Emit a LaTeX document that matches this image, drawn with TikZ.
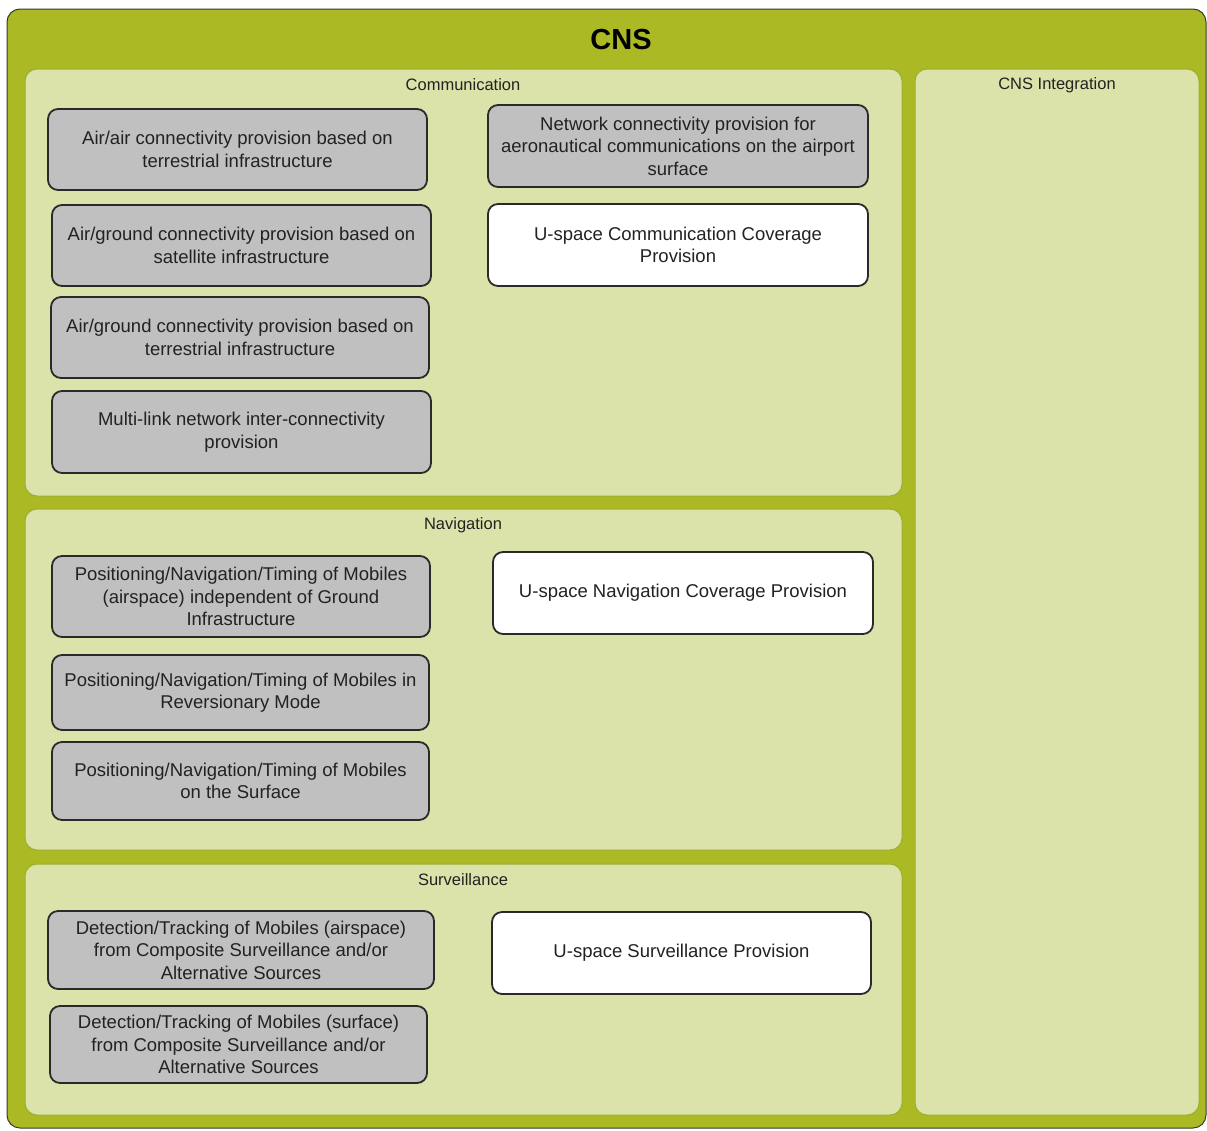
\documentclass[tikz,border=0pt]{standalone}
\usepackage{fontspec}
\setmainfont{Liberation Sans}
\definecolor{cnsgreen}{HTML}{AAB924}
\definecolor{cnsedge}{HTML}{3A3A2A}
\definecolor{panelfill}{HTML}{DCE3AA}
\definecolor{paneledge}{HTML}{9DAE2C}
\definecolor{boxgray}{HTML}{C0C0C0}
\definecolor{boxedge}{HTML}{2A2A2A}
\definecolor{txt}{HTML}{222222}
\tikzset{
  outerbox/.style={draw=cnsedge, line width=1pt, fill=cnsgreen, rounded corners=13pt, inner sep=0pt},
  panel/.style={draw=paneledge, line width=1pt, fill=panelfill, rounded corners=12pt, inner sep=0pt},
  fnbox/.style={draw=boxedge, line width=1.8pt, rounded corners=10pt, align=center, inner sep=2pt,
    text=txt, font=\fontsize{18.5}{22.5}\selectfont},
  graybox/.style={fnbox, fill=boxgray},
  whitebox/.style={fnbox, fill=white},
  plabel/.style={text=txt, font=\fontsize{16.5}{20}\selectfont, inner sep=0pt},
}
\begin{document}
\begin{tikzpicture}[x=1pt,y=-1pt]
\useasboundingbox (0,0) rectangle (1207,1130);

% outer CNS frame
\node[outerbox, minimum width=1199pt, minimum height=1119pt] (cns) at (606.5,568.5) {};
\node[font=\fontsize{29}{32}\selectfont\bfseries, text=black, inner sep=0pt] (cnstitle) at (621,40) {CNS};

% domain panels
\node[panel, minimum width=877pt, minimum height=427pt] (comm) at (463.5,282.5) {};
\node[panel, minimum width=877pt, minimum height=341pt] (nav) at (463.5,679.5) {};
\node[panel, minimum width=877pt, minimum height=251pt] (surv) at (463.5,989.5) {};
\node[panel, minimum width=284pt, minimum height=1046pt] (integ) at (1057,592) {};

\node[plabel] (commlbl) at (463,85) {Communication};
\node[plabel] (navlbl) at (463,525) {Navigation};
\node[plabel] (survlbl) at (463,880) {Surveillance};
\node[plabel] (integlbl) at (1057,85) {CNS Integration};

% Communication
\node[graybox, minimum width=379pt, minimum height=81pt] (c1) at (237.5,149.5)
  {Air/air connectivity provision based on\\terrestrial infrastructure};
\node[graybox, minimum width=379pt, minimum height=81pt] (c2) at (241.5,245.5)
  {Air/ground connectivity provision based on\\satellite infrastructure};
\node[graybox, minimum width=378pt, minimum height=81pt] (c3) at (240,337.5)
  {Air/ground connectivity provision based on\\terrestrial infrastructure};
\node[graybox, minimum width=379pt, minimum height=82pt] (c4) at (241.5,432)
  {Multi-link network inter-connectivity\\provision};
\node[graybox, minimum width=380pt, minimum height=82pt] (c5) at (678,146)
  {Network connectivity provision for\\aeronautical communications on the airport\\surface};
\node[whitebox, minimum width=380pt, minimum height=82pt] (c6) at (678,245)
  {U-space Communication Coverage\\Provision};

% Navigation
\node[graybox, minimum width=378pt, minimum height=81pt] (n1) at (241,596.5)
  {Positioning/Navigation/Timing of Mobiles\\(airspace) independent of Ground\\Infrastructure};
\node[graybox, minimum width=377pt, minimum height=75pt] (n2) at (240.5,692.5)
  {Positioning/Navigation/Timing of Mobiles in\\Reversionary Mode};
\node[graybox, minimum width=377pt, minimum height=78pt] (n3) at (240.5,781)
  {Positioning/Navigation/Timing of Mobiles\\on the Surface};
\node[whitebox, minimum width=380pt, minimum height=82pt] (n4) at (683,593)
  {U-space Navigation Coverage Provision};

% Surveillance
\node[graybox, minimum width=386pt, minimum height=78pt] (s1) at (241,950)
  {Detection/Tracking of Mobiles (airspace)\\from Composite Surveillance and/or\\Alternative Sources};
\node[graybox, minimum width=377pt, minimum height=77pt] (s2) at (238.5,1044.5)
  {Detection/Tracking of Mobiles (surface)\\from Composite Surveillance and/or\\Alternative Sources};
\node[whitebox, minimum width=379pt, minimum height=82pt] (s3) at (681.5,953)
  {U-space Surveillance Provision};
\end{tikzpicture}
\end{document}
